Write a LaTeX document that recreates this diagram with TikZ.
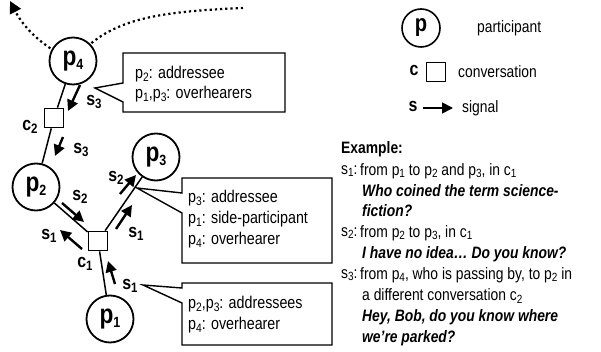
\documentclass[tikz,border=0pt]{standalone}
\usepackage{fontspec}
\setmainfont[FakeStretch=0.84]{Liberation Sans}
\usetikzlibrary{arrows.meta}
\newcommand{\sbs}[2][0.72]{\raisebox{-0.3ex}{\scalebox{#1}{#2}}}
\begin{document}
\begin{tikzpicture}[x=1pt,y=-1pt,
  part/.style={circle,draw,line width=1.8pt,minimum size=47pt,inner sep=0pt,fill=white,font=\bfseries\fontsize{27}{27}\selectfont},
  conv/.style={rectangle,draw,line width=1.7pt,minimum size=19pt,inner sep=0pt,fill=white},
  link/.style={line width=1.5pt},
  sig/.style={-{Triangle[length=11pt,width=11pt]},line width=2.4pt},
  lab/.style={font=\bfseries\fontsize{19}{19}\selectfont,inner sep=0pt},
  callout/.style={line width=1.4pt,fill=white},
  boxtxt/.style={font=\fontsize{17}{20}\selectfont,anchor=west,inner sep=0pt},
  txt/.style={font=\fontsize{16.5}{20}\selectfont,anchor=west,inner sep=0pt},
  ex/.style={font=\bfseries\itshape\fontsize{16.5}{20}\selectfont,anchor=west,inner sep=0pt},
  dots/.style={line width=2.2pt,dash pattern=on 2.2pt off 3pt},
]
\useasboundingbox (0,0) rectangle (601,352);

% dotted path of p4
\coordinate (dr) at (243,8);
\coordinate (dl) at (10,1);
\coordinate (p4c) at (73,61);
\draw[dots] (dr) .. controls (150,12) and (108,20) .. (p4c);
\draw[dots,-{Triangle[length=12pt,width=12pt,sep=0pt]}] (p4c) .. controls (45,48) and (25,30) .. (dl);

% participants and conversations
\node[part] (p4) at (73,61) {p\sbs[0.55]{4}};
\node[conv] (c2) at (54,118) {};
\node[part] (p2) at (36,187) {p\sbs[0.55]{2}};
\node[part] (p3) at (156,157) {p\sbs[0.55]{3}};
\node[conv] (c1) at (98,241) {};
\node[part] (p1) at (110,319) {p\sbs[0.55]{1}};

\draw[link] (p4) -- (c2);
\draw[link] (c2) -- (p2);
\draw[link] (p2) -- (c1);
\draw[link] (c1) -- (p3);
\draw[link] (c1) -- (p1);

\node[lab] (lc2) at (30,127) {c\sbs{2}};
\node[lab] (lc1) at (85,264) {c\sbs{1}};

% signals
\coordinate (a1s) at (80,85);  \coordinate (a1e) at (68,111);
\coordinate (a2s) at (63,137); \coordinate (a2e) at (55,156);
\coordinate (a3s) at (62,203); \coordinate (a3e) at (84,222);
\coordinate (a4s) at (82,249); \coordinate (a4e) at (60,230);
\coordinate (a5s) at (116,229); \coordinate (a5e) at (132,205);
\coordinate (a6s) at (120,194); \coordinate (a6e) at (136,175);
\coordinate (a7s) at (115,284); \coordinate (a7e) at (108,261);
\draw[sig] (a1s) -- (a1e);
\draw[sig] (a2s) -- (a2e);
\draw[sig] (a3s) -- (a3e);
\draw[sig] (a4s) -- (a4e);
\draw[sig] (a5s) -- (a5e);
\draw[sig] (a6s) -- (a6e);
\draw[sig] (a7s) -- (a7e);
\node[lab] (ls3a) at (94,102) {s\sbs{3}};
\node[lab] (ls3b) at (81,150) {s\sbs{3}};
\node[lab] (ls2a) at (80,197) {s\sbs{2}};
\node[lab] (ls1a) at (49,236) {s\sbs{1}};
\node[lab] (ls1b) at (136,234) {s\sbs{1}};
\node[lab] (ls2b) at (116,178) {s\sbs{2}};
\node[lab] (ls1c) at (130,286) {s\sbs{1}};

% callouts
\draw[callout] (123,53) -- (285,53) -- (285,112) -- (123,112) -- (123,102) -- (95,88) -- (123,83) -- cycle;
\node[boxtxt] (t11) at (135,74) {p\sbs{2}: addressee};
\node[boxtxt] (t12) at (135,94) {p\sbs{1},p\sbs{3}: overhearers};

\draw[callout] (182,178) -- (332,178) -- (332,263) -- (182,263) -- (182,213) -- (137,188) -- (182,193) -- cycle;
\node[boxtxt] (t21) at (188,198) {p\sbs{3}: addressee};
\node[boxtxt] (t22) at (188,219) {p\sbs{1}: side-participant};
\node[boxtxt] (t23) at (188,240) {p\sbs{4}: overhearer};

\draw[callout] (182,283) -- (332,283) -- (332,345) -- (182,345) -- (182,303) -- (143,285) -- (182,288) -- cycle;
\node[boxtxt] (t31) at (188,304) {p\sbs{2},p\sbs{3}: addressees};
\node[boxtxt] (t32) at (188,325) {p\sbs{4}: overhearer};

% legend
\node[part,minimum size=38pt,line width=1.6pt,font=\bfseries\fontsize{24}{24}\selectfont] (lp) at (421,28) {p};
\node[txt] (lpt) at (477,28) {participant};
\node[lab] (lcl) at (414,70) {c};
\node[conv] (lcs) at (436,72) {};
\node[txt] (lct) at (458,72) {conversation};
\node[lab] (lsl) at (413,106) {s};
\coordinate (lss) at (423,108);
\coordinate (lse) at (453,108);
\draw[-{Triangle[length=11pt,width=11pt]},line width=1.7pt] (lss) -- (lse);
\node[txt] (lst) at (462,108) {signal};

% example
\node[txt,font=\bfseries\fontsize{16.5}{20}\selectfont] (exh) at (341,149) {Example:};
\node[txt] (e1) at (341,171) {s\sbs{1}:};
\node[txt] (e1t) at (360,171) {from p\sbs{1} to p\sbs{2} and p\sbs{3}, in c\sbs{1}};
\node[ex] (e1a) at (362,191) {Who coined the term science-};
\node[ex] (e1b) at (362,211) {fiction?};
\node[txt] (e2) at (341,233) {s\sbs{2}:};
\node[txt] (e2t) at (360,233) {from p\sbs{2} to p\sbs{3}, in c\sbs{1}};
\node[ex] (e2a) at (362,254) {I have no idea… Do you know?};
\node[txt] (e3) at (341,275) {s\sbs{3}:};
\node[txt] (e3t) at (360,275) {from p\sbs{4}, who is passing by, to p\sbs{2} in};
\node[txt] (e3a) at (362,296) {a different conversation c\sbs{2}};
\node[ex] (e3b) at (362,317) {Hey, Bob, do you know where};
\node[ex] (e3c) at (362,338) {we’re parked?};
\end{tikzpicture}
\end{document}
